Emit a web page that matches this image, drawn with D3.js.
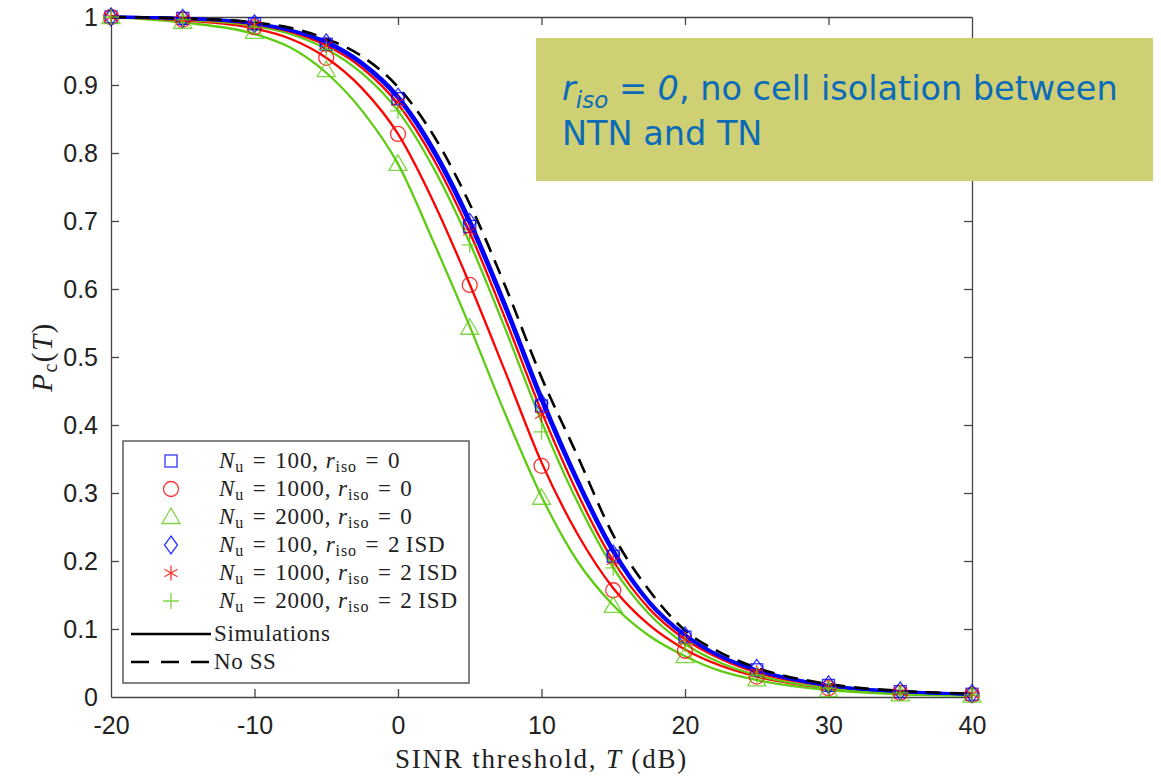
<!DOCTYPE html>
<html>
<head>
<meta charset="utf-8">
<script src="https://cdn.jsdelivr.net/npm/d3@7"></script>
<style>
  body { margin: 0; background: #fff; }
  svg { display: block; }
</style>
</head>
<body>
<svg id="chart" width="1161" height="776"></svg>
<script>
// curve grid (dB) and curve values
const curveT = [-20, -15, -10, -7.5, -5, -2.5, 0, 2.5, 5, 7.5, 10, 12.5, 15, 17.5, 20, 22.5, 25, 30, 35, 40];
const lineN100r0 = [1.0, 0.998, 0.99, 0.98, 0.962, 0.93, 0.88, 0.80, 0.695, 0.57, 0.435, 0.315, 0.212, 0.138, 0.09, 0.059, 0.039, 0.017, 0.008, 0.004];
const lineN100rI = [1.0, 0.998, 0.991, 0.981, 0.964, 0.933, 0.884, 0.806, 0.702, 0.577, 0.442, 0.321, 0.217, 0.141, 0.092, 0.060, 0.040, 0.017, 0.008, 0.004];
const lineN1000r0 = [1.0, 0.995, 0.983, 0.968, 0.94, 0.895, 0.828, 0.727, 0.607, 0.477, 0.345, 0.24, 0.16, 0.106, 0.07, 0.046, 0.03, 0.013, 0.007, 0.005];
const lineN1000rI = [1.0, 0.997, 0.989, 0.978, 0.958, 0.925, 0.872, 0.79, 0.683, 0.555, 0.42, 0.3, 0.2, 0.13, 0.085, 0.056, 0.036, 0.016, 0.008, 0.005];
const lineN2000r0 = [1.0, 0.992, 0.975, 0.955, 0.918, 0.862, 0.784, 0.668, 0.545, 0.415, 0.295, 0.2, 0.135, 0.09, 0.06, 0.038, 0.025, 0.01, 0.004, 0.002];
const lineN2000rI = [1.0, 0.996, 0.987, 0.975, 0.953, 0.917, 0.862, 0.777, 0.668, 0.54, 0.405, 0.287, 0.19, 0.122, 0.078, 0.05, 0.032, 0.013, 0.006, 0.003];
const lineNoSS = [1.0, 0.998, 0.992, 0.984, 0.968, 0.942, 0.897, 0.825, 0.725, 0.603, 0.47, 0.355, 0.238, 0.157, 0.098, 0.065, 0.043, 0.019, 0.009, 0.005];

// marker grid (dB) and marker values
const markT = [-20, -15, -10, -5, 0, 5, 10, 15, 20, 25, 30, 35, 40];
const markN100r0 = [1.0, 0.998, 0.99, 0.96, 0.88, 0.692, 0.428, 0.207, 0.088, 0.04, 0.017, 0.008, 0.004];
const markN1000r0 = [1.0, 0.996, 0.985, 0.94, 0.828, 0.606, 0.34, 0.157, 0.068, 0.03, 0.013, 0.006, 0.003];
const markN2000r0 = [1.0, 0.993, 0.978, 0.922, 0.784, 0.543, 0.293, 0.134, 0.06, 0.026, 0.01, 0.004, 0.002];
const markN100rI = [1.0, 0.998, 0.99, 0.962, 0.882, 0.698, 0.432, 0.21, 0.09, 0.042, 0.018, 0.009, 0.005];
const markN1000rI = [1.0, 0.997, 0.988, 0.958, 0.875, 0.685, 0.415, 0.2, 0.085, 0.036, 0.015, 0.007, 0.004];
const markN2000rI = [1.0, 0.996, 0.985, 0.952, 0.862, 0.665, 0.39, 0.19, 0.078, 0.032, 0.013, 0.006, 0.003];

const xTicks = [-20, -10, 0, 10, 20, 30, 40];
const yTicks = [0, 0.1, 0.2, 0.3, 0.4, 0.5, 0.6, 0.7, 0.8, 0.9, 1];

const BLUE = '#0000ff', RED = '#ff0000', GREEN = '#5fcc14';

const margin = { top: 17, right: 189, bottom: 79, left: 111 };
const width = 1161, height = 776;
const iw = width - margin.left - margin.right;
const ih = height - margin.top - margin.bottom;

const svg = d3.select('#chart');
const g = svg.append('g').attr('transform', `translate(${margin.left},${margin.top})`);

const x = d3.scaleLinear().domain([-20, 40]).range([0, iw]);
const y = d3.scaleLinear().domain([0, 1]).range([ih, 0]);

// axes with inward ticks on all four sides
const axisColor = '#444';
const tickFont = '"Liberation Sans", Arial, sans-serif';
const xb = g.append('g').attr('transform', `translate(0,${ih})`)
  .call(d3.axisBottom(x).tickValues(xTicks).tickSize(-8).tickPadding(19).tickSizeOuter(0)
    .tickFormat(d => String(d)));
const xt = g.append('g')
  .call(d3.axisTop(x).tickValues(xTicks).tickSize(-8).tickFormat('').tickSizeOuter(0));
const yl = g.append('g')
  .call(d3.axisLeft(y).tickValues(yTicks).tickSize(-8).tickPadding(13).tickSizeOuter(0)
    .tickFormat(d => d === 0 || d === 1 ? String(d) : d3.format('.1f')(d)));
const yr = g.append('g').attr('transform', `translate(${iw},0)`)
  .call(d3.axisRight(y).tickValues(yTicks).tickSize(-8).tickFormat('').tickSizeOuter(0));
[xb, xt, yl, yr].forEach(a => {
  a.selectAll('path').attr('stroke', axisColor).attr('stroke-width', 1.3);
  a.selectAll('line').attr('stroke', axisColor).attr('stroke-width', 1.3);
  a.selectAll('text').attr('font-family', tickFont).attr('font-size', 25).attr('fill', '#222');
});
xb.selectAll('.tick line').filter(d => d === -20 || d === 40).remove();
xt.selectAll('.tick line').filter(d => d === -20 || d === 40).remove();
yl.selectAll('.tick line').filter(d => d === 0 || d === 1).remove();
yr.selectAll('.tick line').filter(d => d === 0 || d === 1).remove();

// curves
const line = d3.line()
  .x((d, i) => x(curveT[i]))
  .y(d => y(d))
  .curve(d3.curveMonotoneX);

const curves = [
  { v: lineN2000r0, c: GREEN, w: 2.3 },
  { v: lineN1000r0, c: RED, w: 2.3 },
  { v: lineN2000rI, c: GREEN, w: 2.3 },
  { v: lineN1000rI, c: RED, w: 2.3 },
  { v: lineN100rI, c: BLUE, w: 3 },
  { v: lineN100r0, c: BLUE, w: 3 },
];
curves.forEach(s => {
  g.append('path').attr('d', line(s.v)).attr('fill', 'none')
    .attr('stroke', s.c).attr('stroke-width', s.w);
});
g.append('path').attr('d', line(lineNoSS)).attr('fill', 'none')
  .attr('stroke', '#000').attr('stroke-width', 2.6).attr('stroke-dasharray', '15,9');

// marker shapes
function drawMarker(sel, type, color) {
  const op = 0.8;
  if (type === 'square') {
    sel.append('rect').attr('x', -6).attr('y', -6).attr('width', 12).attr('height', 12)
      .attr('fill', 'none').attr('stroke', color).attr('stroke-width', 1.3).attr('opacity', op);
  } else if (type === 'circle') {
    sel.append('circle').attr('r', 7.5)
      .attr('fill', 'none').attr('stroke', color).attr('stroke-width', 1.3).attr('opacity', op);
  } else if (type === 'triangle') {
    sel.append('path').attr('d', 'M0,-9L9,6.5L-9,6.5Z')
      .attr('fill', 'none').attr('stroke', color).attr('stroke-width', 1.3).attr('opacity', op);
  } else if (type === 'diamond') {
    sel.append('path').attr('d', 'M0,-9L6.5,0L0,9L-6.5,0Z')
      .attr('fill', 'none').attr('stroke', color).attr('stroke-width', 1.3).attr('opacity', op);
  } else if (type === 'asterisk') {
    sel.append('path').attr('d', 'M0,-7.5V7.5M-6.5,-3.75L6.5,3.75M-6.5,3.75L6.5,-3.75')
      .attr('fill', 'none').attr('stroke', color).attr('stroke-width', 1.3).attr('opacity', op);
  } else if (type === 'plus') {
    sel.append('path').attr('d', 'M0,-8V8M-8,0H8')
      .attr('fill', 'none').attr('stroke', color).attr('stroke-width', 1.3).attr('opacity', op);
  }
}

const markerSeries = [
  { v: markN100r0, c: BLUE, m: 'square' },
  { v: markN1000r0, c: RED, m: 'circle' },
  { v: markN2000r0, c: GREEN, m: 'triangle' },
  { v: markN100rI, c: BLUE, m: 'diamond' },
  { v: markN1000rI, c: RED, m: 'asterisk' },
  { v: markN2000rI, c: GREEN, m: 'plus' },
];
markerSeries.forEach(s => {
  g.append('g').selectAll('g').data(s.v).enter().append('g')
    .attr('transform', (d, i) => `translate(${x(markT[i])},${y(d)})`)
    .each(function () { drawMarker(d3.select(this), s.m, s.c); });
});

// axis labels
const serif = '"Liberation Serif", "DejaVu Serif", serif';
const xlab = svg.append('text').attr('x', margin.left + iw / 2).attr('y', 768)
  .attr('text-anchor', 'middle').attr('font-family', serif).attr('font-size', 27)
  .attr('letter-spacing', 1.8).attr('fill', '#222');
xlab.append('tspan').text('SINR threshold, ');
xlab.append('tspan').attr('font-style', 'italic').text('T');
xlab.append('tspan').text(' (dB)');

const ylab = svg.append('text').attr('transform', 'translate(52,357) rotate(-90)')
  .attr('text-anchor', 'middle').attr('font-family', serif).attr('font-size', 29)
  .attr('letter-spacing', 1.5).attr('fill', '#222');
ylab.append('tspan').attr('font-style', 'italic').text('P');
ylab.append('tspan').attr('font-size', 20).attr('dy', 5).text('c');
ylab.append('tspan').attr('dy', -5).text('(');
ylab.append('tspan').attr('font-style', 'italic').text('T');
ylab.append('tspan').text(')');

// legend
const legendLabels = [
  ['100', '0'], ['1000', '0'], ['2000', '0'],
  ['100', '2\u2009ISD'], ['1000', '2\u2009ISD'], ['2000', '2\u2009ISD'],
];
const leg = svg.append('g').attr('transform', 'translate(123,441)');
leg.append('rect').attr('width', 346).attr('height', 242)
  .attr('fill', '#fff').attr('stroke', '#444').attr('stroke-width', 1.3);
const rowY = [20, 48, 76, 104, 132, 160, 193, 221];
const eq = '\u2004=\u2004';
markerSeries.forEach((s, i) => {
  const row = leg.append('g').attr('transform', `translate(48,${rowY[i]})`);
  drawMarker(row, s.m, s.c);
  const t = leg.append('text').attr('x', 96).attr('y', rowY[i] + 7)
    .attr('font-family', serif).attr('font-size', 23).attr('letter-spacing', 0.9).attr('fill', '#222');
  t.append('tspan').attr('font-style', 'italic').text('N');
  t.append('tspan').attr('font-size', 16).attr('dy', 4).text('u');
  t.append('tspan').attr('dy', -4).text(`${eq}${legendLabels[i][0]}, `);
  t.append('tspan').attr('font-style', 'italic').text('r');
  t.append('tspan').attr('font-size', 16).attr('dy', 4).text('iso');
  t.append('tspan').attr('dy', -4).text(`${eq}${legendLabels[i][1]}`);
});
leg.append('line').attr('x1', 8).attr('x2', 88).attr('y1', rowY[6]).attr('y2', rowY[6])
  .attr('stroke', '#000').attr('stroke-width', 2.4);
leg.append('text').attr('x', 91).attr('y', rowY[6] + 7).attr('font-family', serif)
  .attr('font-size', 23).attr('letter-spacing', 0.6).attr('fill', '#222').text('Simulations');
leg.append('line').attr('x1', 8).attr('x2', 88).attr('y1', rowY[7]).attr('y2', rowY[7])
  .attr('stroke', '#000').attr('stroke-width', 2.4).attr('stroke-dasharray', '18,12');
leg.append('text').attr('x', 91).attr('y', rowY[7] + 7).attr('font-family', serif)
  .attr('font-size', 23).attr('letter-spacing', 0.6).attr('fill', '#222').text('No SS');

// annotation box
const note = svg.append('g');
note.append('rect').attr('x', 536).attr('y', 38).attr('width', 617).attr('height', 143)
  .attr('fill', '#cfcf73');
const noteFont = '"DejaVu Sans", sans-serif';
const n1 = note.append('text').attr('x', 562).attr('y', 100)
  .attr('font-family', noteFont).attr('font-size', 33.5).attr('fill', '#0b6bb8');
n1.append('tspan').attr('font-style', 'italic').text('r');
n1.append('tspan').attr('font-style', 'italic').attr('font-size', 23).attr('dy', 8).text('iso');
n1.append('tspan').attr('dy', -8).text(' = ');
n1.append('tspan').attr('font-style', 'italic').text('0');
n1.append('tspan').text(', no cell isolation between');
note.append('text').attr('x', 562).attr('y', 145)
  .attr('font-family', noteFont).attr('font-size', 33.5).attr('fill', '#0b6bb8')
  .text('NTN and TN');
</script>
</body>
</html>
